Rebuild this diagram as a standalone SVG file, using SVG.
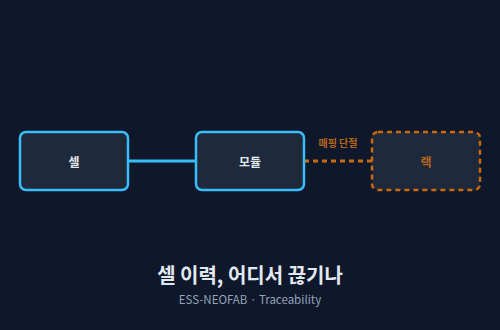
<svg xmlns="http://www.w3.org/2000/svg" width="500" height="330" viewBox="0 0 500 330">
<style>
.bg{fill:#0f172a}
.node rect{fill:#1e293b;stroke-width:2.5}
.ok rect{stroke:#38bdf8}
.broken rect{stroke:#c96a0c;stroke-dasharray:5 4}
text{font-family:"Noto Sans CJK KR","Noto Sans",sans-serif;text-anchor:middle;dominant-baseline:central}
.lbl{font-size:12px;font-weight:700;fill:#e2e8f0}
.olbl{font-size:12px;font-weight:700;fill:#b5651a}
.edge{fill:none;stroke-width:3}
.solid{stroke:#38bdf8}
.dash{stroke:#c96a0c;stroke-dasharray:5 4}
.elbl{font-size:10px;font-weight:700;fill:#b5651a}
.title{font-size:20px;font-weight:700;fill:#e2e8f0}
.sub{font-size:11.5px;fill:#94a3b8}
</style>
<rect class="bg" x="0" y="0" width="500" height="330"/>
<g id="connectors">
<line class="edge solid" x1="128" y1="161" x2="196" y2="161"/>
<line class="edge dash" x1="304" y1="161" x2="372" y2="161"/>
<text class="elbl" x="338" y="142">매핑 단절</text>
</g>
<g id="cell" class="node ok">
<rect x="20" y="132" width="108" height="58" rx="6"/>
<text class="lbl" x="74" y="161">셀</text>
</g>
<g id="module" class="node ok">
<rect x="196" y="132" width="108" height="58" rx="6"/>
<text class="lbl" x="250" y="161">모듈</text>
</g>
<g id="rack" class="node broken">
<rect x="372" y="132" width="108" height="58" rx="6"/>
<text class="olbl" x="426" y="161">랙</text>
</g>
<text class="title" x="250" y="274">셀 이력, 어디서 끊기나</text>
<text class="sub" x="250" y="299">ESS-NEOFAB · Traceability</text>
</svg>
